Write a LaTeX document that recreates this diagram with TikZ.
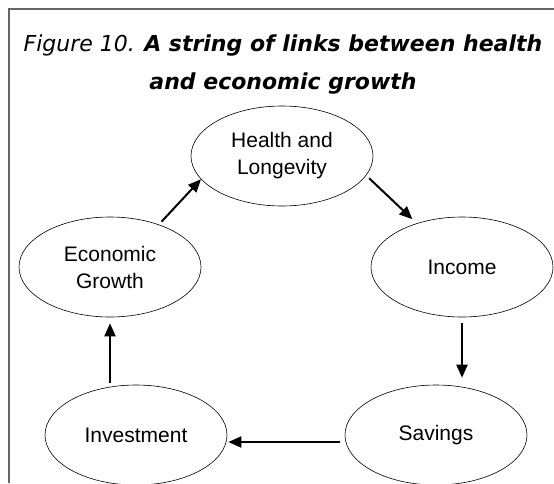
\documentclass[tikz,border=0pt]{standalone}
\usepackage{fontspec}
\setmainfont{Liberation Sans}
\newfontfamily\titlefont{DejaVu Sans}
\usetikzlibrary{shapes.geometric,arrows.meta,positioning}
\tikzset{
  bubble/.style={draw, ellipse, line width=0.6pt, minimum width=182pt, minimum height=100pt,
    inner sep=0pt, align=center, font=\fontsize{21}{27}\selectfont},
  link/.style={line width=2pt, -{Triangle[length=13pt,width=11pt]}},
}
\begin{document}
\begin{tikzpicture}[x=1pt,y=-1pt]
  \useasboundingbox (0,0) rectangle (554,483);
  % Frame and title
  \draw[line width=2pt, black!60] (9,483) -- (9,9) -- (554,9);
  \node[font=\titlefont\fontsize{22}{38}\selectfont, align=center, inner sep=0pt] (title) at (283,65)
    {\textit{Figure 10.} \textbf{\textit{A string of links between health}}\\
     \textbf{\textit{and economic growth}}};
  % The five links of the chain
  \node[bubble] (health) at (282,156) {Health and\\Longevity};
  \node[bubble] (income) at (462,267) {Income};
  \node[bubble] (savings) at (436,435) {Savings};
  \node[bubble] (invest) at (136,435) {Investment};
  \node[bubble] (growth) at (110,267) {Economic\\Growth};
  % Arrows round the circle
  \draw[link, shorten <=4pt] (growth.41) -- (health.196);
  \draw[link, shorten <=4pt, shorten >=6pt] (health.347) -- (income.136);
  \draw[link, shorten <=6pt, shorten >=7pt] (income.south) -- (income.south |- savings.north);
  \draw[link, shorten <=5pt, shorten >=1pt] ([yshift=-7pt]savings.west) -- ([yshift=-7pt]invest.east);
  \draw[link, shorten <=2pt, shorten >=6pt] (growth.south |- invest.north) -- (growth.south);
\end{tikzpicture}
\end{document}
